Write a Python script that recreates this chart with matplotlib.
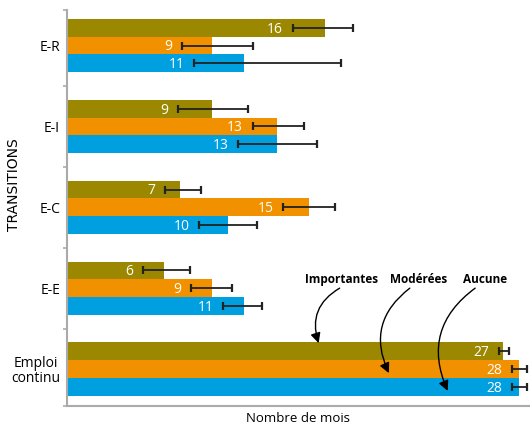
import numpy as np
import matplotlib.pyplot as plt

plt.rcParams['font.family'] = ['Open Sans', 'DejaVu Sans']

# Données (de bas en haut)
categories = ['Emploi\ncontinu', 'E-E', 'E-C', 'E-I', 'E-R']
importantes = [27, 6, 7, 9, 16]
moderees = [28, 9, 15, 13, 9]
aucune = [28, 11, 10, 13, 11]

# Bornes des intervalles
imp_bas = [26.8, 4.7, 6.1, 6.9, 14.0]
imp_haut = [27.4, 7.6, 8.3, 11.2, 17.7]
mod_bas = [27.6, 7.7, 13.4, 11.5, 7.1]
mod_haut = [28.5, 10.2, 16.6, 14.7, 11.5]
auc_bas = [27.6, 9.7, 8.2, 10.6, 7.9]
auc_haut = [28.5, 12.1, 11.8, 15.5, 17.0]

series = [
    ('Importantes', importantes, imp_bas, imp_haut, '#9B8800', 0.219),
    ('Modérées', moderees, mod_bas, mod_haut, '#F29100', 0.0),
    ('Aucune', aucune, auc_bas, auc_haut, '#009FE0', -0.219),
]

fig = plt.figure(figsize=(5.30, 4.26), dpi=100)
ax = fig.add_axes([67 / 530, 20 / 426, 463 / 530, 396 / 426])

y = np.arange(len(categories))
h = 0.219

for nom, val, bas, haut, couleur, dy in series:
    val = np.array(val, dtype=float)
    bas = np.array(bas)
    haut = np.array(haut)
    ax.barh(y + dy, val, height=h, color=couleur, zorder=2)
    ax.errorbar(val, y + dy, xerr=[val - bas, haut - val], fmt='none',
                ecolor='#222222', elinewidth=1.3, capsize=2.9, capthick=1.6, zorder=3)
    for yi, v, b in zip(y + dy, val, bas):
        ax.annotate(f'{int(v)}', xy=(b, yi), xytext=(-7, -1), textcoords='offset points',
                    ha='right', va='center', color='white', fontsize=10, zorder=4)

# Légende sous forme de flèches
legende = [('Importantes', 17.0, 16.9, 15.6, 0.32),
           ('Modérées', 21.8, 21.25, 19.95, -0.05),
           ('Aucune', 25.9, 25.3, 23.6, -0.27)]
for txt, tx, sx, ex, ey in legende:
    ax.text(tx, 1.11, txt, ha='center', va='center', fontsize=8.5, fontweight='bold')
    ax.annotate('', xy=(ex, ey), xytext=(sx, 1.0),
                arrowprops=dict(arrowstyle='-|>', color='black', lw=1.0,
                                mutation_scale=15, shrinkA=0, shrinkB=0,
                                connectionstyle='arc3,rad=0.4'), zorder=5)

ax.set_xlim(0, 28.7)
ax.set_ylim(-0.457, 4.439)
ax.set_yticks(y)
ax.set_yticklabels(categories, fontsize=10, linespacing=1.0)
for lab in ax.get_yticklabels():
    lab.set_multialignment('center')
ax.tick_params(axis='y', length=0, pad=5)
ax.set_yticks([-0.457, 0.5, 1.5, 2.5, 3.5, 4.439], minor=True)
ax.tick_params(axis='y', which='minor', length=3, width=1.2, color='#AAAAAA')
ax.set_xticks([])

for s in ['top', 'right']:
    ax.spines[s].set_visible(False)
for s in ['left', 'bottom']:
    ax.spines[s].set_color('#AAAAAA')
    ax.spines[s].set_linewidth(1.5)

ax.set_ylabel('TRANSITIONS', fontsize=10, family=['DejaVu Sans'])
ax.yaxis.set_label_coords(-0.099, 0.56)
ax.set_xlabel('Nombre de mois', fontsize=9.5, labelpad=4)

fig.savefig('out.png', dpi=100)
